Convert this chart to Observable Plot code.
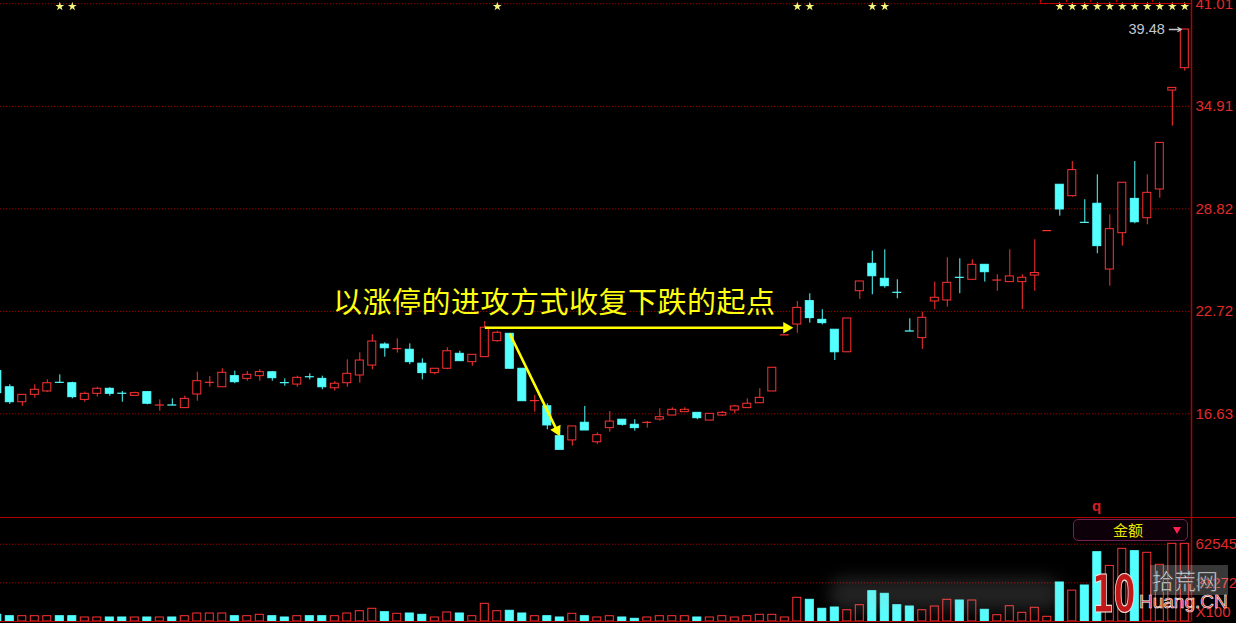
<!DOCTYPE html>
<html><head><meta charset="utf-8">
<script src="https://cdn.jsdelivr.net/npm/d3@7"></script>
<script src="https://cdn.jsdelivr.net/npm/@observablehq/plot@0.6"></script>
<style>
html,body{margin:0;padding:0;background:#000;overflow:hidden;width:1236px;height:623px;}
#wrap{position:relative;width:1236px;height:623px;background:#000;overflow:hidden;font-family:"Liberation Sans",Arial,sans-serif;}
.ov{position:absolute;white-space:nowrap;}
#price svg,#vol svg{display:block;}
</style></head><body>
<div id="wrap">
  <div id="price" class="ov" style="left:0;top:0"></div>
  <div id="vol" class="ov" style="left:0;top:512px"></div>
  <div class="ov" style="left:0;top:516.5px;width:1236px;height:0;border-top:1px solid #b00000"></div>
  <div class="ov" style="left:1040px;top:-9px;width:150px;height:11px;border:1px solid #c00000;"></div>
  <div class="ov" style="left:1066px;top:-2px;width:0;height:4px;border-left:1px solid #c00000;"></div>
  <div class="ov" style="left:1090px;top:-2px;width:0;height:4px;border-left:1px solid #c00000;"></div>
  <div class="ov" style="left:1116px;top:-2px;width:0;height:4px;border-left:1px solid #c00000;"></div>
  <div class="ov" style="left:1152px;top:-2px;width:0;height:4px;border-left:1px solid #c00000;"></div>
  <div id="note" class="ov" style="left:333px;top:286px;font-family:'Noto Sans CJK SC',sans-serif;font-size:29px;line-height:29px;letter-spacing:0.5px;color:#ffff10;"></div>
  <div id="qmark" class="ov" style="left:1092px;top:497px;font-family:'Liberation Sans',sans-serif;font-weight:bold;font-size:15px;color:#d02020;">q</div>
  <div class="ov" style="left:1073px;top:519px;width:113px;height:20px;border:1.5px solid #7a2050;border-radius:5px;background:#0d0008;"></div>
  <div id="amtLabel" class="ov" style="left:1113px;top:520px;font-family:'Noto Sans CJK SC',sans-serif;font-size:15px;line-height:20px;color:#e8e800;"></div>
  <div class="ov" style="left:1173px;top:527px;width:0;height:0;border-left:4.5px solid transparent;border-right:4.5px solid transparent;border-top:7px solid #ff2050;"></div>
  <div class="ov" style="left:830px;top:578px;width:230px;height:32px;background:rgba(190,190,190,0.18);filter:blur(8px);border-radius:12px;"></div>
  <div class="ov" style="left:1150px;top:565px;width:78px;height:30px;background:rgba(255,255,255,0.22);"></div>
  <div id="wm10" class="ov" style="left:1092px;top:568px;font-family:'DejaVu Sans',sans-serif;font-weight:bold;font-size:52px;line-height:52px;color:#c01818;transform:scaleX(0.6);transform-origin:0 0;-webkit-text-stroke:1.2px #f0e0e0;">10</div>
  <div id="wmCn" class="ov" style="left:1152px;top:566px;font-family:'Noto Sans CJK SC',sans-serif;font-size:22px;line-height:26px;color:#dcdcdc;-webkit-text-stroke:0.6px #404040;"></div>
  <div id="wmEn" class="ov" style="left:1139px;top:592px;font-family:'Liberation Sans',sans-serif;font-size:19px;line-height:20px;color:#d02020;-webkit-text-stroke:0.6px #ffffff;">Huang.CN</div>
</div>
<script>
// ---- data (index -1 is the partly visible bar at the left edge) ----
const opens = [19.17,18.21,17.32,17.76,17.96,18.48,18.45,17.46,17.82,18.12,17.83,17.70,17.92,17.12,17.13,16.97,17.78,18.47,18.21,18.87,18.71,18.87,19.10,18.46,18.37,18.81,18.71,18.15,18.45,18.91,19.50,20.75,20.47,20.44,19.61,19.05,19.31,20.20,19.70,20.00,20.95,21.39,19.31,17.38,17.08,15.30,15.05,16.10,14.94,15.78,16.28,15.98,16.09,16.29,16.53,16.73,16.69,16.23,16.53,16.83,16.97,17.26,17.96,21.29,21.94,23.33,22.22,21.63,20.29,23.92,25.55,24.66,23.83,21.53,21.13,23.31,23.37,24.72,24.60,25.49,24.55,24.46,24.46,24.85,27.49,30.25,29.57,27.99,29.12,25.21,27.37,29.41,28.26,29.97,35.85,37.18];
const highs = [19.25,18.36,17.76,18.36,18.65,18.95,18.51,17.92,18.21,18.18,17.96,17.92,17.93,17.46,17.52,17.68,19.11,18.85,19.31,19.17,19.15,19.25,19.15,18.71,18.87,19.01,18.87,18.55,19.84,20.26,21.33,20.85,21.09,20.79,19.90,19.31,20.56,20.35,20.15,22.12,21.54,21.39,19.31,17.72,17.23,15.64,15.88,17.07,15.50,16.77,16.29,16.28,16.17,16.93,16.99,16.99,16.70,16.64,16.77,17.13,17.52,18.12,19.37,21.30,23.31,23.77,22.82,21.63,22.30,24.50,26.30,26.38,24.60,22.28,22.67,24.46,25.91,25.85,25.79,25.50,24.90,26.38,24.90,26.98,27.50,30.25,31.63,29.36,30.84,28.46,30.37,31.63,30.84,32.75,36.01,39.48];
const lows = [17.80,17.19,17.08,17.56,17.90,18.46,17.52,17.32,17.62,17.68,17.32,17.68,17.17,16.79,17.12,16.96,17.38,18.21,18.20,18.42,18.57,18.57,18.57,18.27,18.21,18.65,18.06,17.98,18.21,18.45,19.25,20.00,20.24,19.55,18.65,18.95,19.25,19.75,19.46,19.99,20.89,19.30,17.38,16.73,15.68,14.49,14.71,15.64,14.81,15.54,15.90,15.60,15.78,16.19,16.53,16.72,16.28,16.23,16.47,16.63,16.96,17.26,17.96,21.29,21.42,22.02,21.92,19.80,20.29,23.43,23.71,24.10,23.47,21.52,20.46,22.82,22.97,23.77,24.59,24.46,23.92,24.45,22.83,23.92,27.49,28.38,29.51,27.98,26.15,24.22,26.60,27.93,27.87,29.45,33.73,37.00];
const closes = [17.86,17.32,17.76,18.06,18.45,18.47,17.62,17.82,18.12,17.82,17.82,17.86,17.23,17.13,17.12,17.52,18.57,18.48,19.07,18.51,18.95,19.11,18.75,18.45,18.77,18.80,18.21,18.42,19.01,19.80,20.93,20.53,20.48,19.70,19.05,19.31,20.35,19.76,20.14,21.75,21.45,19.31,17.38,17.39,15.94,14.49,15.88,15.64,15.36,16.17,15.98,15.78,16.10,16.43,16.87,16.87,16.37,16.63,16.69,17.07,17.23,17.58,19.37,21.30,22.93,22.32,22.02,20.29,22.30,24.50,24.81,24.22,23.82,21.52,22.34,23.53,24.42,24.71,25.49,25.05,24.56,24.80,24.72,25.00,27.50,28.78,31.12,27.98,26.60,27.61,30.37,28.02,29.77,32.74,36.01,39.48];
const volumes = [5420,4290,4290,4290,4290,4290,4290,3240,3240,3240,3240,3240,3240,3240,3240,4290,6470,6470,6470,4290,4290,5420,4290,3240,4290,4290,4290,4290,6470,8330,10280,7530,6230,6470,5420,3240,7280,6470,4290,14320,8330,8660,6470,4290,4290,3240,6230,4290,3240,4290,3240,2180,3240,4290,4290,4290,3240,3240,4290,3240,4290,5420,5420,3240,19180,17560,10280,11330,9140,13190,24520,22410,13190,12140,9140,12140,17560,16990,16990,9470,5100,12380,7040,11090,3800,31560,25000,29130,56080,45000,58830,56890,55590,45880,62870,62870];
const firstIndex = -1;
const priceTicks = [41.01, 34.91, 28.82, 22.72, 16.63];
const volTicks = [62545, 31272];
const volUnit = "X100";
const starBars = [4,5,39,63,64,69,70,84,85,86,87,88,89,90,91,92,93,94];
const noteText = "以涨停的进攻方式收复下跌的起点";
const amountLabel = "金额";
const wmText = "拾荒网";
const noteArrows = [ {from:38, fromField:"close", to:63, toField:"close", horizontal:true},
                     {from:40, fromField:"open", to:44, toField:"open", horizontal:false} ];

// ---- build table ----
const bars = opens.map((o, k) => ({i: firstIndex + k, open: o, high: highs[k], low: lows[k], close: closes[k], volume: volumes[k]}));
bars.forEach((b, k) => { b.up = b.close > b.open || (b.close === b.open && (k === 0 || b.close >= bars[k-1].close)); });
const upBars = bars.filter(b => b.up), downBars = bars.filter(b => !b.up);
const bar = i => bars.find(b => b.i === i);

const RED = "#ff3232", CYAN = "#54ffff", GRID = "#990000", FRAME = "#b00000", LABEL = "#e02a2a", YEL = "#ffff00", GRAY = "#c0c8d2";
const W = 1236, H1 = 517, MR = 45, HW = 0.32;
const xDomain = [-0.744, 94.536];
const yDomain = [10.467, 41.204];
const xPix = d3.scaleLinear(xDomain, [0, W - MR]);
const yPix = d3.scaleLinear(yDomain, [H1, 0]);

// arrow geometry (in data units, with head)
const TIP = 6.7;
const arrowLines = [], arrowHeads = [];
for (const a of noteArrows) {
  const s = bar(a.from), e = bar(a.to);
  const y1 = s[a.fromField];
  const y2 = a.horizontal ? y1 : e[a.toField];
  const x1 = a.from, x2 = a.horizontal ? a.to - HW : a.to;
  const px1 = xPix(x1), py1 = yPix(y1), px2 = xPix(x2), py2 = yPix(y2);
  const len = Math.hypot(px2 - px1, py2 - py1), ux = (px2 - px1) / len, uy = (py2 - py1) / len;
  arrowLines.push({x1, y1, x2: xPix.invert(px2 - ux * 6), y2: yPix.invert(py2 - uy * 6)});
  arrowHeads.push({x: x2, y: y2, dx: -ux * TIP, dy: -uy * TIP, rot: Math.atan2(ux, -uy) * 180 / Math.PI});
}
const last = bars[bars.length - 1];

const price = Plot.plot({
  width: W, height: H1, marginTop: 0, marginBottom: 0, marginLeft: 0, marginRight: MR,
  style: {background: "transparent", fontFamily: "Liberation Sans, Arial, sans-serif", overflow: "hidden"},
  x: {domain: xDomain, axis: null},
  y: {domain: yDomain, axis: null},
  marks: [
    Plot.ruleY(priceTicks, {stroke: GRID, strokeDasharray: "1.3,1.7"}),
    Plot.axisY(priceTicks, {anchor: "right", tickSize: 0, tickPadding: 4, label: null, tickFormat: d => d.toFixed(2), fill: LABEL, fontSize: 15}),
    Plot.ruleX(upBars, {x: "i", y1: "low", y2: "high", stroke: RED}),
    Plot.ruleX(downBars, {x: "i", y1: "low", y2: "high", stroke: CYAN}),
    Plot.rect(upBars, {x1: d => d.i - HW, x2: d => d.i + HW, y1: "open", y2: "close", fill: "#000", stroke: RED}),
    Plot.rect(downBars, {x1: d => d.i - HW, x2: d => d.i + HW, y1: "open", y2: "close", fill: CYAN, stroke: CYAN}),
    Plot.dot(bars.filter(b => starBars.includes(b.i)), {x: "i", frameAnchor: "top", dy: 6, symbol: "star", r: 2.8, fill: "#f4f47a", stroke: null}),
    Plot.text([last], {x: "i", y: "high", text: d => d.high.toFixed(2), textAnchor: "end", dx: -20, fill: GRAY, fontSize: 14.5}),
    Plot.arrow([last], {x1: d => d.i - 1.23, x2: d => d.i - 0.28, y: "high", stroke: GRAY, strokeWidth: 1.3, headLength: 6}),
    Plot.link(arrowLines, {x1: "x1", y1: "y1", x2: "x2", y2: "y2", stroke: YEL, strokeWidth: 2.6}),
    ...arrowHeads.map(h => Plot.dot([h], {x: "x", y: "y", dx: h.dx, dy: h.dy, symbol: "triangle", r: 4.3, rotate: h.rot, fill: YEL, stroke: null})),
    Plot.ruleX([xDomain[1]], {stroke: FRAME, strokeWidth: 1.5})
  ]
});
document.getElementById("price").appendChild(price);

const volTop = 84157;
const vol = Plot.plot({
  width: W, height: 111, marginTop: 5, marginBottom: 2, marginLeft: 0, marginRight: MR,
  style: {background: "transparent", fontFamily: "Liberation Sans, Arial, sans-serif", overflow: "hidden"},
  x: {domain: xDomain, axis: null},
  y: {domain: [0, volTop], axis: null},
  marks: [
    Plot.ruleY(volTicks, {stroke: GRID, strokeDasharray: "1.3,1.7"}),
    Plot.axisY(volTicks, {anchor: "right", tickSize: 0, tickPadding: 4, label: null, tickFormat: d => String(d), fill: LABEL, fontSize: 15}),
    Plot.text([volUnit], {frameAnchor: "bottom-right", textAnchor: "start", dx: 4, dy: -5, text: d => d, fill: LABEL, fontSize: 15}),
    Plot.rect(upBars, {x1: d => d.i - HW, x2: d => d.i + HW, y1: 0, y2: "volume", fill: "#000", stroke: RED}),
    Plot.rect(downBars, {x1: d => d.i - HW, x2: d => d.i + HW, y1: 0, y2: "volume", fill: CYAN, stroke: CYAN}),
    Plot.ruleY([0], {stroke: FRAME, strokeWidth: 1.2}),
    Plot.ruleX([xDomain[1]], {y1: 0, y2: volTop, stroke: FRAME, strokeWidth: 1.5})
  ]
});
document.getElementById("vol").appendChild(vol);

document.getElementById("note").textContent = noteText;
document.getElementById("amtLabel").textContent = amountLabel;
document.getElementById("wmCn").textContent = wmText;
</script>
</body></html>
